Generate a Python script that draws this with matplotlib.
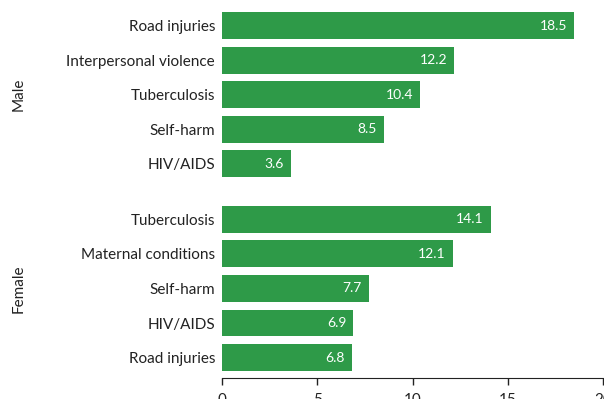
import matplotlib.pyplot as plt
import matplotlib.transforms as mtransforms

plt.rcParams['font.family'] = ['Lato', 'DejaVu Sans']

male_causes = ["Road injuries", "Interpersonal violence", "Tuberculosis", "Self-harm", "HIV/AIDS"]
male_values = [18.5, 12.2, 10.4, 8.5, 3.6]
female_causes = ["Tuberculosis", "Maternal conditions", "Self-harm", "HIV/AIDS", "Road injuries"]
female_values = [14.1, 12.1, 7.7, 6.9, 6.8]

green = "#2e9a48"
group_gap = 0.6

male_pos = list(range(len(male_causes)))
female_pos = [len(male_causes) + group_gap + i for i in range(len(female_causes))]

fig = plt.figure(figsize=(6.04, 3.99), dpi=100)
ax = fig.add_axes([222 / 604, 21 / 399, 381 / 604, 378 / 399])

positions = male_pos + female_pos
values = male_values + female_values
labels = male_causes + female_causes

ax.barh(positions, values, height=0.78, color=green)
for y, v in zip(positions, values):
    ax.annotate(f"{v:g}", (v, y), xytext=(-5, 0), textcoords="offset points",
                ha="right", va="center", color="white", fontsize=10)

ax.set_yticks(positions)
ax.set_yticklabels(labels, fontsize=11, color="#222222")
ax.tick_params(axis="y", length=0, pad=5)
ax.set_ylim(10.19, -0.74)

ax.set_xlim(0, 20)
ax.set_xticks([0, 5, 10, 15, 20])
ax.tick_params(axis="x", length=5, width=1, pad=6, labelsize=11, colors="#222222")

for side in ["top", "right", "left"]:
    ax.spines[side].set_visible(False)
ax.spines["bottom"].set_color("#222222")

# group labels on the far left
trans = mtransforms.blended_transform_factory(fig.transFigure, ax.transData)
ax.text(19 / 604, sum(male_pos) / len(male_pos), "Male", rotation=90,
        ha="center", va="center", fontsize=11, color="#222222", transform=trans)
ax.text(19 / 604, sum(female_pos) / len(female_pos), "Female", rotation=90,
        ha="center", va="center", fontsize=11, color="#222222", transform=trans)

fig.savefig("out.png", dpi=100)
